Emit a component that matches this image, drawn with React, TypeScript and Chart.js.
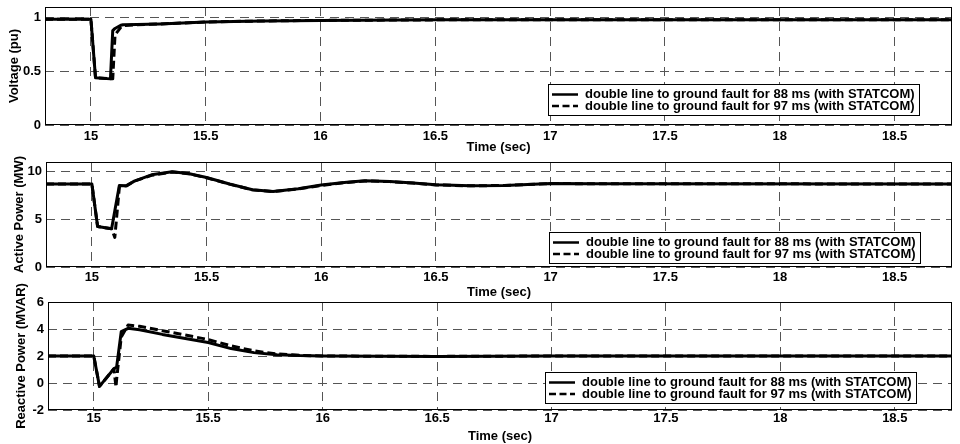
import React, { useEffect, useRef } from 'react';
import { Chart, registerables } from 'chart.js';

Chart.register(...registerables);

const FONT = '"Liberation Sans", Arial, Helvetica, sans-serif';

// ---------- shared ----------
const legendLabels = [
  'double line to ground fault for 88 ms (with STATCOM)',
  'double line to ground fault for 97 ms (with STATCOM)',
];
const xTitle = 'Time (sec)';
const xMin = 14.8;
const xMax = 18.75;
const xTicks = [15, 15.5, 16, 16.5, 17, 17.5, 18, 18.5];

// ---------- panel 1: voltage (pu) ----------
const voltageTitle = 'Voltage (pu)';
const voltageTime = [14.8, 15.0, 15.02, 15.085, 15.095, 15.105, 15.13, 15.14, 15.2, 15.3, 15.5, 15.75, 16.0, 16.5, 17.0, 18.75];
const voltage88 = [0.985, 0.985, 0.44, 0.43, 0.88, 0.9, 0.93, 0.935, 0.937, 0.942, 0.96, 0.97, 0.975, 0.98, 0.98, 0.98];
const voltage97 = [0.985, 0.985, 0.44, 0.43, 0.43, 0.84, 0.91, 0.925, 0.935, 0.942, 0.96, 0.97, 0.975, 0.98, 0.98, 0.98];
const voltageTicks = [0, 0.5, 1];
const voltageRange = [0, 1.1];

// ---------- panel 2: active power (MW) ----------
const activeTitle = 'Active Power (MW)';
const activeTime = [14.8, 15.0, 15.025, 15.086, 15.1, 15.12, 15.15, 15.185, 15.26, 15.35, 15.42, 15.5, 15.6, 15.7, 15.79, 15.9, 16.0, 16.1, 16.19, 16.3, 16.4, 16.5, 16.65, 16.8, 17.0, 17.2, 18.75];
const active88 = [8.7, 8.7, 4.25, 4.0, 5.9, 8.55, 8.5, 9.0, 9.66, 9.97, 9.8, 9.38, 8.7, 8.1, 7.92, 8.2, 8.58, 8.85, 9.03, 8.95, 8.8, 8.62, 8.5, 8.55, 8.75, 8.72, 8.7];
const active97 = [8.7, 8.7, 4.25, 4.0, 3.1, 8.4, 8.5, 9.0, 9.6, 9.95, 9.78, 9.35, 8.68, 8.08, 7.9, 8.18, 8.55, 8.83, 9.02, 8.95, 8.8, 8.6, 8.5, 8.55, 8.75, 8.72, 8.7];
const activeTicks = [0, 5, 10];
const activeRange = [0, 11];

// ---------- panel 3: reactive power (MVAR) ----------
const reactiveTitle = 'Reactive Power (MVAR)';
const reactiveTime = [14.8, 15.0, 15.025, 15.088, 15.097, 15.1, 15.12, 15.15, 15.2, 15.3, 15.4, 15.5, 15.6, 15.7, 15.8, 15.9, 16.0, 16.5, 17.0, 18.75];
const reactive88 = [2.0, 2.0, -0.25, 1.05, 1.15, 1.2, 3.8, 4.05, 3.95, 3.6, 3.3, 3.0, 2.55, 2.25, 2.1, 2.03, 2.0, 1.97, 2.0, 2.0];
const reactive97 = [2.0, 2.0, -0.25, 1.05, -0.3, 0.3, 3.4, 4.3, 4.2, 3.87, 3.55, 3.22, 2.75, 2.38, 2.15, 2.05, 2.0, 1.97, 2.0, 2.0];
const reactiveTicks = [-2, 0, 2, 4, 6];
const reactiveRange = [-2, 6];

// ---------- layout (pixels) ----------
const W = 960;
const H = 444;
const AREA_RIGHT = 952;

type Panel = {
  title: string;
  time: number[];
  s88: number[];
  s97: number[];
  ticks: number[];
  range: number[];
  top: number;
  left: number;
  bottom: number;
  scaleBottom: number;
  xTickPad: number;
  yTitlePad: number;
  legRight: number;
  legBottom: number;
};

const panels: Panel[] = [
  { title: voltageTitle, time: voltageTime, s88: voltage88, s97: voltage97, ticks: voltageTicks, range: voltageRange,
    top: 7, left: 45, bottom: 125, scaleBottom: 154.8, xTickPad: 3.5, yTitlePad: 7, legRight: 32, legBottom: 9 },
  { title: activeTitle, time: activeTime, s88: active88, s97: active97, ticks: activeTicks, range: activeRange,
    top: 162, left: 46, bottom: 267, scaleBottom: 299.8, xTickPad: 2.4, yTitlePad: 12, legRight: 31, legBottom: 3 },
  { title: reactiveTitle, time: reactiveTime, s88: reactive88, s97: reactive97, ticks: reactiveTicks, range: reactiveRange,
    top: 302, left: 48, bottom: 410, scaleBottom: 443.8, xTickPad: 0.5, yTitlePad: 13.5, legRight: 35, legBottom: 6 },
];

const DASH = [8, 4];

const boxPlugin = {
  id: 'axesBox',
  beforeDatasetsDraw(chart: any) {
    const { ctx, chartArea: a } = chart;
    ctx.save();
    ctx.strokeStyle = '#000';
    ctx.lineWidth = 1;
    ctx.setLineDash([]);
    const l = Math.round(a.left) + 0.5;
    const t = Math.round(a.top) + 0.5;
    const r = Math.round(a.right) - 0.5;
    const b = Math.round(a.bottom) - 0.5;
    ctx.strokeRect(l, t, r - l, b - t);
    ctx.restore();
  },
};

const legendPlugin = {
  id: 'boxLegend',
  afterDatasetsDraw(chart: any, _args: any, opts: any) {
    const { ctx, chartArea: a } = chart;
    ctx.save();
    ctx.font = `bold 13px ${FONT}`;
    const textW = Math.max(...legendLabels.map((s) => ctx.measureText(s).width));
    const w = Math.round(4 + 26 + 7 + textW + 5);
    const h = 32;
    const right = Math.round(a.right - opts.right);
    const bottom = Math.round(a.bottom - opts.bottom);
    const left = right - w;
    const top = bottom - h;
    ctx.fillStyle = '#fff';
    ctx.fillRect(left, top, w, h);
    ctx.strokeStyle = '#000';
    ctx.lineWidth = 1;
    ctx.setLineDash([]);
    ctx.strokeRect(left + 0.5, top + 0.5, w - 1, h - 1);
    const rows = [top + 10.5, top + 22];
    chart.data.datasets.forEach((ds: any, i: number) => {
      const y = rows[i];
      ctx.beginPath();
      ctx.lineWidth = 2.5;
      ctx.strokeStyle = '#000';
      ctx.setLineDash(i === 1 ? [7, 3.5] : []);
      ctx.moveTo(left + 4, y);
      ctx.lineTo(left + 30, y);
      ctx.stroke();
      ctx.setLineDash([]);
      ctx.fillStyle = '#000';
      ctx.textAlign = 'left';
      ctx.textBaseline = 'middle';
      ctx.fillText(ds.label, left + 37, y);
    });
    ctx.restore();
  },
};

function makeConfig(p: Panel): any {
  const pts = (vals: number[]) => p.time.map((t, i) => ({ x: t, y: vals[i] }));
  return {
    type: 'line',
    data: {
      datasets: [
        { label: legendLabels[0], data: pts(p.s88), borderColor: '#000', borderWidth: 3, pointRadius: 0, tension: 0, fill: false, borderJoinStyle: 'round' },
        { label: legendLabels[1], data: pts(p.s97), borderColor: '#000', borderWidth: 3, borderDash: DASH, pointRadius: 0, tension: 0, fill: false, borderJoinStyle: 'round' },
      ],
    },
    options: {
      responsive: false,
      animation: false,
      devicePixelRatio: 1,
      events: [],
      layout: { padding: { top: p.top, left: 0, right: W - AREA_RIGHT, bottom: H - p.scaleBottom } },
      plugins: {
        legend: { display: false },
        tooltip: { enabled: false },
        title: { display: false },
        boxLegend: { right: p.legRight, bottom: p.legBottom },
      },
      scales: {
        x: {
          type: 'linear',
          min: xMin,
          max: xMax,
          afterBuildTicks: (s: any) => { s.ticks = xTicks.map((v) => ({ value: v })); },
          afterFit: (s: any) => { s.height = p.scaleBottom - p.bottom; s.paddingLeft = 0; s.paddingRight = 0; },
          ticks: {
            autoSkip: false, maxRotation: 0, minRotation: 0, padding: p.xTickPad, color: '#000',
            font: { family: FONT, size: 13, weight: 'bold' },
            callback: (v: any) => String(v),
          },
          grid: { color: '#555', lineWidth: 1, drawTicks: false, tickBorderDash: [], },
          border: { display: false, dash: [9, 6] },
          title: { display: true, text: xTitle, color: '#000', padding: 0, font: { family: FONT, size: 13, weight: 'bold' } },
        },
        y: {
          type: 'linear',
          min: p.range[0],
          max: p.range[1],
          afterBuildTicks: (s: any) => { s.ticks = p.ticks.map((v) => ({ value: v })); },
          afterFit: (s: any) => { s.width = p.left; s.paddingTop = 0; s.paddingBottom = 0; },
          ticks: {
            padding: 4, color: '#000',
            font: { family: FONT, size: 13, weight: 'bold' },
            callback: (v: any) => String(v),
          },
          grid: { color: '#555', lineWidth: 1, drawTicks: false },
          border: { display: false, dash: [9, 6] },
          title: { display: true, text: p.title, color: '#000', padding: { top: p.yTitlePad, bottom: 0 }, font: { family: FONT, size: 13, weight: 'bold' } },
        },
      },
    },
    plugins: [boxPlugin, legendPlugin],
  };
}

function PanelChart({ panel }: { panel: Panel }) {
  const ref = useRef<HTMLCanvasElement | null>(null);
  useEffect(() => {
    if (!ref.current) return;
    const chart = new Chart(ref.current, makeConfig(panel));
    return () => chart.destroy();
  }, [panel]);
  return (
    <canvas
      ref={ref}
      width={W}
      height={H}
      style={{ position: 'absolute', left: 0, top: 0, width: W, height: H }}
    />
  );
}

export default function App() {
  return (
    <div style={{ position: 'absolute', left: 0, top: 0, width: W, height: H, background: '#fff', overflow: 'hidden' }}>
      {panels.map((p, i) => (
        <PanelChart key={i} panel={p} />
      ))}
    </div>
  );
}
